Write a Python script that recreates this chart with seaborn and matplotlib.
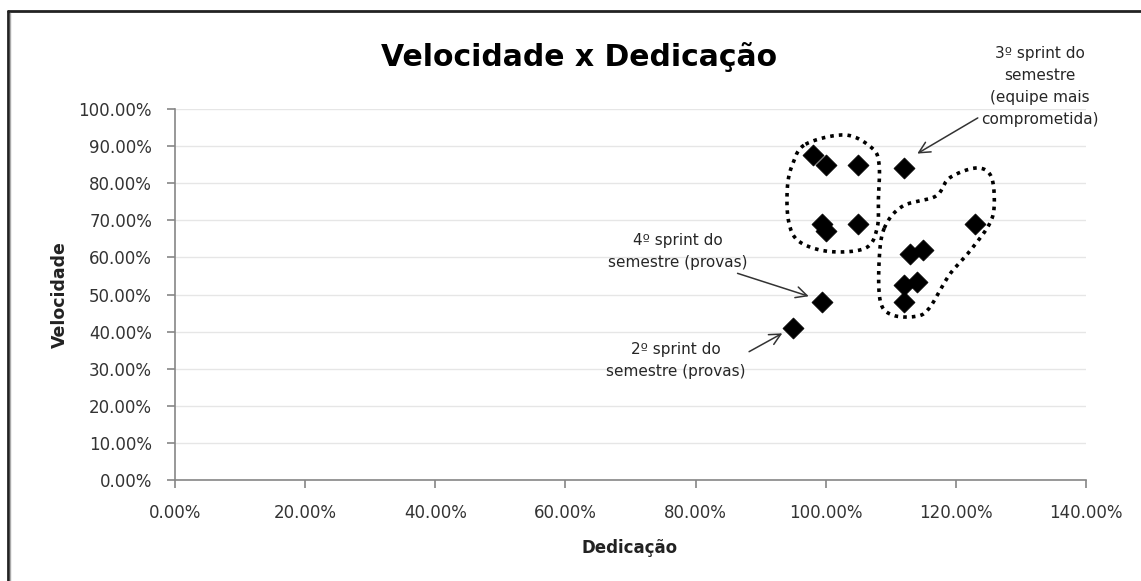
import numpy as np
import pandas as pd
import matplotlib
matplotlib.use("Agg")
import matplotlib.pyplot as plt
from matplotlib.lines import Line2D
import seaborn as sns

# ---- data ----
dedicacao = [0.98, 1.00, 1.05, 0.995, 1.00, 1.05, 1.12, 1.23, 1.13, 1.15, 1.12, 1.14, 1.12, 0.995, 0.95]
velocidade = [0.875, 0.85, 0.85, 0.69, 0.67, 0.69, 0.84, 0.69, 0.61, 0.62, 0.525, 0.535, 0.48, 0.48, 0.41]
x_ticks = [0.0, 0.2, 0.4, 0.6, 0.8, 1.0, 1.2, 1.4]
y_ticks = [0.0, 0.1, 0.2, 0.3, 0.4, 0.5, 0.6, 0.7, 0.8, 0.9, 1.0]
title = "Velocidade x Dedicação"
xlabel = "Dedicação"
ylabel = "Velocidade"
note_3 = "3º sprint do\nsemestre\n(equipe mais\ncomprometida)"
note_4 = "4º sprint do\nsemestre (provas)"
note_2 = "2º sprint do\nsemestre (provas)"

# outline groups (annotation shapes, in data units)
group_a_x = [0.969, 1.030, 1.071, 1.082, 1.081, 1.079, 1.061, 1.005, 0.959, 0.943, 0.941, 0.949]
group_a_y = [0.905, 0.930, 0.895, 0.851, 0.760, 0.679, 0.625, 0.616, 0.643, 0.697, 0.787, 0.851]
group_b_x = [1.090, 1.118, 1.169, 1.190, 1.231, 1.254, 1.259, 1.251, 1.221, 1.190, 1.159, 1.138, 1.102, 1.084, 1.082]
group_b_y = [0.679, 0.738, 0.765, 0.814, 0.841, 0.819, 0.742, 0.688, 0.616, 0.553, 0.463, 0.441, 0.445, 0.481, 0.589]

df = pd.DataFrame({"Dedicação": dedicacao, "Velocidade": velocidade})

sns.set_theme(style="white")
plt.rcParams["font.family"] = ["DejaVu Sans"]

fig = plt.figure(figsize=(11.41, 5.81), dpi=100)
ax = fig.add_axes([0.1534, 0.1738, 0.7984, 0.6386])

sns.scatterplot(data=df, x="Dedicação", y="Velocidade", marker="D", color="black",
                s=115, edgecolor="black", linewidth=0.5, ax=ax, zorder=3)

ax.set_xlim(0, 1.4)
ax.set_ylim(0, 1.0)
ax.set_xticks(x_ticks)
ax.set_yticks(y_ticks)
ax.set_xticklabels([f"{v*100:.2f}%" for v in x_ticks], fontsize=12, color="#333333")
ax.set_yticklabels([f"{v*100:.2f}%" for v in y_ticks], fontsize=12, color="#333333")
ax.yaxis.grid(True, color="#e6e6e6", linewidth=1)
ax.xaxis.grid(False)
ax.set_axisbelow(True)
for s in ["top", "right"]:
    ax.spines[s].set_visible(False)
for s in ["left", "bottom"]:
    ax.spines[s].set_color("#868686")
    ax.spines[s].set_linewidth(1.2)
ax.tick_params(axis="both", which="major", length=5.5, width=1.2, color="#868686",
               direction="out", bottom=True, left=True)
ax.tick_params(axis="x", pad=12)
ax.tick_params(axis="y", pad=11)

ax.set_xlabel(xlabel, fontsize=12, fontweight="bold", color="#222222")
ax.set_ylabel(ylabel, fontsize=12.5, fontweight="bold", color="#222222")
ax.xaxis.set_label_coords(0.4995, -0.183)
ax.yaxis.set_label_coords(-0.126, 0.5)
ax.xaxis.label.set_va("center")
ax.yaxis.label.set_va("center")
fig.text(579 / 1141, 1 - 57 / 581, title, ha="center", va="center", fontsize=21.5,
         fontweight="bold", color="black")


def closed_spline(xs, ys, n=30):
    pts = np.column_stack([xs, ys])
    m = len(pts)
    out = []
    for i in range(m):
        p0, p1, p2, p3 = pts[(i - 1) % m], pts[i], pts[(i + 1) % m], pts[(i + 2) % m]
        t = np.linspace(0, 1, n, endpoint=False)[:, None]
        seg = 0.5 * ((2 * p1) + (-p0 + p2) * t + (2 * p0 - 5 * p1 + 4 * p2 - p3) * t ** 2
                     + (-p0 + 3 * p1 - 3 * p2 + p3) * t ** 3)
        out.append(seg)
    out = np.vstack(out + [out[0][:1]])
    return out[:, 0], out[:, 1]


for gx, gy in [(group_a_x, group_a_y), (group_b_x, group_b_y)]:
    sx, sy = closed_spline(gx, gy)
    ax.plot(sx, sy, color="black", linewidth=2.6, linestyle=(0, (1, 1.4)),
            dash_capstyle="butt", zorder=2)

arrow = dict(arrowstyle="->", color="#333333", lw=1.1, mutation_scale=20)
ax.annotate(note_3, xy=(1.137, 0.876), xytext=(1.329, 1.061), ha="center", va="center",
            fontsize=11, color="#262626", linespacing=1.6, annotation_clip=False,
            arrowprops=dict(arrow, shrinkA=0, shrinkB=2, relpos=(-0.02, 0.12)))
ax.annotate(note_4, xy=(0.978, 0.493), xytext=(0.773, 0.616), ha="center", va="center",
            fontsize=11, color="#262626", linespacing=1.6,
            arrowprops=dict(arrow, shrinkA=0, shrinkB=2, relpos=(0.92, -0.08)))
ax.annotate(note_2, xy=(0.937, 0.399), xytext=(0.770, 0.323), ha="center", va="center",
            fontsize=11, color="#262626", linespacing=1.6,
            arrowprops=dict(arrow, shrinkA=0, shrinkB=2, relpos=(1.0, 0.68)))

# outer chart frame (left and top edges visible in the crop)
fig.add_artist(Line2D([8 / 1141, 8 / 1141], [0, 1 - 11 / 581], transform=fig.transFigure,
                      color="#222222", linewidth=2.0))
fig.add_artist(Line2D([8 / 1141, 1], [1 - 11 / 581, 1 - 11 / 581], transform=fig.transFigure,
                      color="#222222", linewidth=2.0))
fig.add_artist(Line2D([10 / 1141, 10 / 1141], [0, 1 - 13 / 581], transform=fig.transFigure,
                      color="#aaaaaa", linewidth=1.0))

fig.savefig("out.png", dpi=100, facecolor="white")
